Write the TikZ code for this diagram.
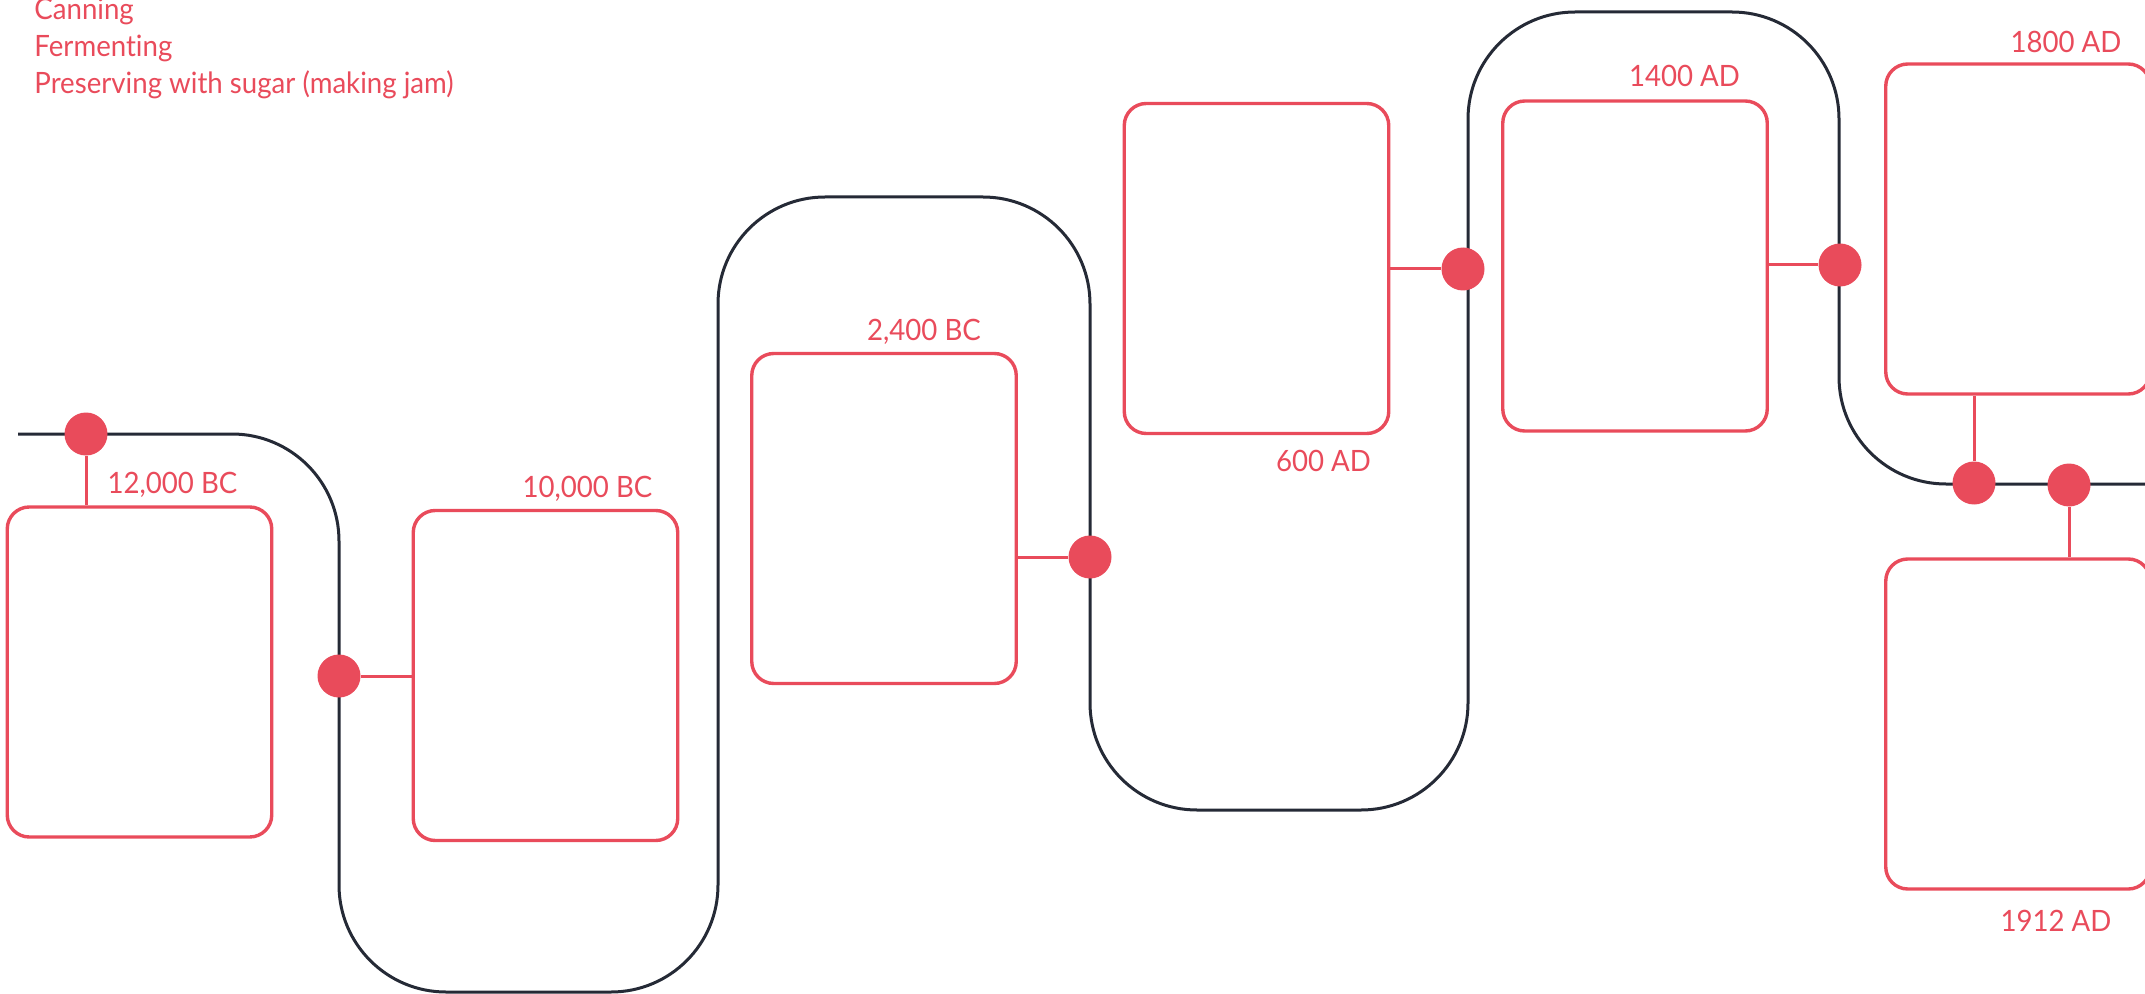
\documentclass[tikz,border=0pt]{standalone}
\usepackage{fontspec}
\setmainfont[Ligatures=NoCommon, FakeStretch=0.94]{Lato}
\definecolor{redA}{HTML}{E94B5B}
\definecolor{darkA}{HTML}{252A36}
\tikzset{
  eventbox/.style={draw=redA, line width=1.7pt, rounded corners=11pt, minimum width=132.25pt, minimum height=165pt, inner sep=0pt},
  dotnode/.style={circle, fill=redA, minimum size=21.5pt, inner sep=0pt},
  linkline/.style={draw=redA, line width=1.5pt},
  road/.style={draw=darkA, line width=1.5pt, rounded corners=53.5pt},
  datelbl/.style={text=redA, font=\fontsize{14.7}{17}\selectfont, inner sep=0pt, anchor=base},
  listlbl/.style={text=redA, font=\fontsize{14.7}{17}\selectfont, inner sep=0pt, anchor=base west}
}
\begin{document}
\begin{tikzpicture}[x=0.5pt,y=-0.5pt]
\useasboundingbox (0,0) rectangle (2145,994);
% road
\coordinate (rs) at (18,434);
\coordinate (re) at (2150,484);
\draw[road] (rs) -- (339,434) -- (339,992) -- (718,992) -- (718,197) -- (1090,197) -- (1090,810) -- (1468,810) -- (1468,12) -- (1839,12) -- (1839,484) -- (re);
% boxes
\node[eventbox] (b1) at (139.5,672) {};
\node[eventbox] (b2) at (545.5,675.5) {};
\node[eventbox] (b3) at (884,518.5) {};
\node[eventbox] (b4) at (1256.5,268.5) {};
\node[eventbox] (b5) at (1635,266) {};
\node[eventbox] (b6) at (2018,229) {};
\node[eventbox] (b7) at (2018,724) {};
% dots
\node[dotnode] (d1) at (86,434) {};
\node[dotnode] (d2) at (339,676) {};
\node[dotnode] (d3) at (1090,557) {};
\node[dotnode] (d4) at (1463,269) {};
\node[dotnode] (d5) at (1840,265) {};
\node[dotnode] (d6) at (1974,483) {};
\node[dotnode] (d7) at (2069,485) {};
% links
\draw[linkline] (d1) -- (b1.north -| d1);
\draw[linkline] (d2) -- (d2 -| b2.west);
\draw[linkline] (d3) -- (d3 -| b3.east);
\draw[linkline] (d4) -- (d4 -| b4.east);
\draw[linkline] (d5) -- (d5 -| b5.east);
\draw[linkline] (d6) -- (b6.south -| d6);
\draw[linkline] (d7) -- (b7.north -| d7);
% labels
\node[datelbl] (l1) at (172.5,493.3) {12,000 BC};
\node[datelbl] (l2) at (587.5,497) {10,000 BC};
\node[datelbl] (l3) at (924,341) {2,400 BC};
\node[datelbl] (l4) at (1323.5,471.5) {600 AD};
\node[datelbl] (l5) at (1684.5,86.7) {1400 AD};
\node[datelbl] (l6) at (2066,52.3) {1800 AD};
\node[datelbl] (l7) at (2056,931) {1912 AD};
% list
\node[listlbl] (t1) at (34,19.3) {Canning};
\node[listlbl] (t2) at (34,56.7) {Fermenting};
\node[listlbl] (t3) at (34,94) {Preserving with sugar (making jam)};
\end{tikzpicture}
\end{document}
